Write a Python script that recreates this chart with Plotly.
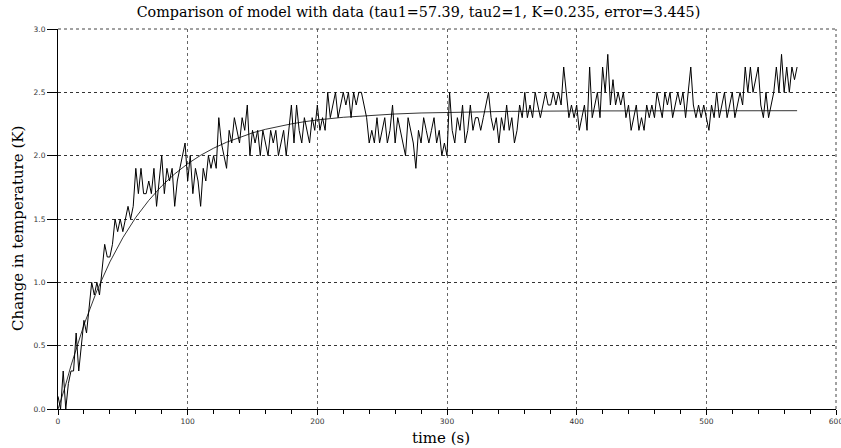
import plotly.graph_objects as go

data_t = list(range(0, 571, 2))
data_dT = [
    0.1, 0.0, 0.3, 0.0, 0.2, 0.3, 0.3, 0.6, 0.3, 0.5,
    0.7, 0.6, 0.8, 1.0, 0.9, 1.0, 0.9, 1.1, 1.3, 1.2,
    1.2, 1.3, 1.5, 1.4, 1.5, 1.4, 1.5, 1.6, 1.5, 1.6,
    1.9, 1.7, 1.9, 1.7, 1.7, 1.8, 1.7, 1.9, 1.6, 1.8,
    2.0, 1.7, 1.9, 1.8, 1.9, 1.6, 1.8, 1.9, 2.0, 2.1,
    1.8, 2.0, 1.7, 1.9, 1.8, 1.6, 1.9, 1.8, 2.0, 1.9,
    2.0, 1.9, 2.3, 2.1, 2.0, 1.9, 2.2, 2.1, 2.3, 2.2,
    2.1, 2.3, 2.2, 2.4, 2.0, 2.2, 2.1, 2.2, 2.0, 2.2,
    2.1, 2.0, 2.2, 2.1, 2.2, 2.0, 2.1, 2.2, 2.0, 2.2,
    2.4, 2.1, 2.4, 2.2, 2.1, 2.3, 2.2, 2.1, 2.3, 2.2,
    2.4, 2.2, 2.3, 2.2, 2.5, 2.3, 2.4, 2.5, 2.3, 2.4,
    2.5, 2.4, 2.5, 2.3, 2.5, 2.4, 2.5, 2.5, 2.4, 2.3,
    2.1, 2.2, 2.1, 2.3, 2.1, 2.2, 2.3, 2.1, 2.2, 2.4,
    2.1, 2.3, 2.2, 2.1, 2.0, 2.3, 2.2, 2.1, 1.9, 2.2,
    2.1, 2.3, 2.2, 2.1, 2.2, 2.3, 2.1, 2.2, 2.0, 2.1,
    2.0, 2.5, 2.2, 2.1, 2.3, 2.2, 2.4, 2.1, 2.2, 2.4,
    2.2, 2.3, 2.3, 2.2, 2.3, 2.4, 2.5, 2.3, 2.2, 2.3,
    2.1, 2.3, 2.2, 2.4, 2.2, 2.3, 2.1, 2.2, 2.4, 2.3,
    2.5, 2.3, 2.4, 2.3, 2.5, 2.4, 2.3, 2.4, 2.5, 2.4,
    2.4, 2.5, 2.4, 2.5, 2.4, 2.7, 2.5, 2.3, 2.4, 2.3,
    2.4, 2.2, 2.3, 2.4, 2.2, 2.7, 2.3, 2.4, 2.5, 2.3,
    2.7, 2.5, 2.8, 2.4, 2.6, 2.4, 2.5, 2.4, 2.5, 2.3,
    2.4, 2.2, 2.3, 2.4, 2.2, 2.3, 2.2, 2.4, 2.3, 2.4,
    2.3, 2.5, 2.4, 2.3, 2.5, 2.4, 2.5, 2.3, 2.4, 2.5,
    2.4, 2.5, 2.3, 2.5, 2.7, 2.4, 2.3, 2.4, 2.3, 2.4,
    2.3, 2.2, 2.4, 2.3, 2.5, 2.3, 2.4, 2.5, 2.3, 2.4,
    2.5, 2.3, 2.4, 2.5, 2.4, 2.7, 2.5, 2.7, 2.5, 2.6,
    2.7, 2.4, 2.3, 2.5, 2.3, 2.4, 2.5, 2.7, 2.5, 2.8,
    2.5, 2.7, 2.5, 2.7, 2.6, 2.7,
]

# model curve values
model_t = [0, 5, 10, 20, 30, 40, 50, 60, 70, 80, 90, 100, 110, 120, 130, 140,
           150, 160, 170, 180, 190, 200, 220, 240, 260, 280, 300, 325, 350,
           400, 450, 500, 570]
model_dT = [0.0, 0.159, 0.342, 0.664, 0.934, 1.161, 1.352, 1.513, 1.647, 1.761,
            1.856, 1.936, 2.003, 2.059, 2.106, 2.146, 2.180, 2.208, 2.231,
            2.251, 2.268, 2.282, 2.303, 2.318, 2.329, 2.337, 2.342, 2.347,
            2.350, 2.353, 2.354, 2.355, 2.355]

x_ticks = [0, 100, 200, 300, 400, 500, 600]
y_ticks = [0.0, 0.5, 1.0, 1.5, 2.0, 2.5, 3.0]

fig = go.Figure()
fig.add_trace(go.Scatter(x=data_t, y=data_dT, mode="lines",
                         line=dict(color="black", width=1), showlegend=False))
fig.add_trace(go.Scatter(x=model_t, y=model_dT, mode="lines",
                         line=dict(color="black", width=0.8), showlegend=False))

border = dict(color="#444", width=1, dash="3px,3px")

fig.update_layout(
    width=841, height=448,
    margin=dict(l=58, r=5, t=29, b=39, autoexpand=False),
    paper_bgcolor="white", plot_bgcolor="white",
    title=dict(text="Comparison of model with data (tau1=57.39, tau2=1, K=0.235, error=3.445)",
               x=0.4976, xanchor="center", y=0.973, yanchor="middle",
               font=dict(family="DejaVu Serif", size=14.3, color="black")),
    xaxis=dict(range=[0, 600], tickvals=x_ticks, ticktext=[str(v) for v in x_ticks],
               showline=True, linecolor="black", linewidth=1, automargin=False,
               ticks="outside", ticklen=5, tickcolor="black", ticklabeloverflow="allow",
               minor=dict(dtick=20, ticks="outside", ticklen=4, tickcolor="black", showgrid=False),
               tickfont=dict(family="DejaVu Sans", size=7.5, color="#333"),
               showgrid=True, gridcolor="#666", griddash="3px,3px", gridwidth=1,
               zeroline=False),
    yaxis=dict(range=[0, 3], tickvals=y_ticks, ticktext=[f"{v:.1f}" for v in y_ticks],
               showline=True, linecolor="black", linewidth=1, automargin=False,
               ticks="outside", ticklen=10, tickcolor="black", ticklabeloverflow="allow",
               tickfont=dict(family="DejaVu Sans", size=7.5, color="#333"),
               showgrid=True, gridcolor="#333", griddash="3px,3px", gridwidth=1,
               zeroline=False),
    shapes=[
        dict(type="line", xref="paper", yref="paper", x0=0, x1=1, y0=1, y1=1, line=border),
        dict(type="line", xref="paper", yref="paper", x0=1, x1=1, y0=0, y1=1, line=border),
    ],
    annotations=[
        dict(text="time (s)", xref="paper", yref="paper",
             x=(440.5 - 58) / 778, y=-(438 - 409) / 380, xanchor="center", yanchor="middle",
             showarrow=False, font=dict(family="DejaVu Serif", size=15, color="black")),
        dict(text="Change in temperature (K)", xref="paper", yref="paper", textangle=-90,
             x=-(58 - 18) / 778, y=(409 - 229) / 380, xanchor="center", yanchor="middle",
             showarrow=False, font=dict(family="DejaVu Serif", size=15, color="black")),
    ],
)

fig.write_html("out.html", config={"displayModeBar": False},
               post_script="document.body.style.margin='0px';")
